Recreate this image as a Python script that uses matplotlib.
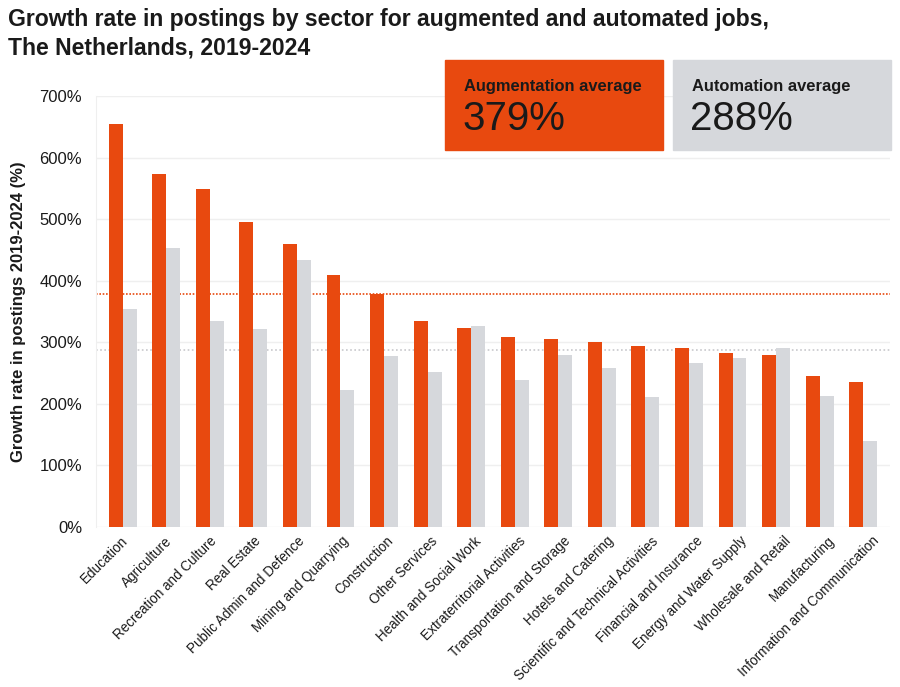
import numpy as np
import matplotlib.pyplot as plt
from matplotlib.patches import Rectangle
from matplotlib.transforms import ScaledTranslation

plt.rcParams['font.family'] = ['Liberation Sans', 'DejaVu Sans']

# data
sectors = ['Education', 'Agriculture', 'Recreation and Culture', 'Real Estate',
           'Public Admin and Defence', 'Mining and Quarrying', 'Construction',
           'Other Services', 'Health and Social Work', 'Extraterritorial Activities',
           'Transportation and Storage', 'Hotels and Catering',
           'Scientific and Technical Activities', 'Financial and Insurance',
           'Energy and Water Supply', 'Wholesale and Retail', 'Manufacturing',
           'Information and Communication']
augmentation = [654, 573, 549, 496, 459, 409, 379, 335, 323, 309, 305, 300, 294,
                291, 282, 280, 245, 236]
automation = [354, 453, 335, 322, 434, 223, 277, 251, 326, 238, 280, 258, 211,
              266, 275, 291, 213, 140]
aug_avg = 379
auto_avg = 288
yticks = [0, 100, 200, 300, 400, 500, 600, 700]

ORANGE = '#E8490F'
GREY = '#D6D8DC'
TEXT = '#1a1a1a'

fig = plt.figure(figsize=(9, 6.87), dpi=100)
ax = fig.add_axes([0.1067, 0.2329, 0.882, 0.6274])

x = np.arange(len(sectors))
w = 0.32
ax.bar(x - w / 2, augmentation, width=w, color=ORANGE, zorder=3)
ax.bar(x + w / 2, automation, width=w, color=GREY, zorder=3)

# average reference lines
ax.axhline(aug_avg, color=ORANGE, linestyle=(0, (1, 1)), linewidth=1.2, zorder=2)
ax.axhline(auto_avg, color='#c8c8cc', linestyle=(0, (1, 1.5)), linewidth=1.2, zorder=2)

ax.set_xlim(-0.61, len(sectors) - 0.39)
ax.set_ylim(0, 700)
ax.set_yticks(yticks)
ax.set_yticklabels([f'{v}%' for v in yticks], fontsize=12, color=TEXT)
ax.yaxis.grid(True, color='#efefef', linewidth=1, zorder=0)
ax.tick_params(axis='y', length=0, pad=10)
ax.tick_params(axis='x', length=0, pad=5)
ax.set_xticks(x)
ax.set_xticklabels(sectors, rotation=45, ha='right', rotation_mode='anchor',
                   fontsize=9.75, color=TEXT)
# labels drift slightly right of the bar groups in the original (pixels)
n = len(sectors)
for i, lab in enumerate(ax.get_xticklabels()):
    dx = (-2 + 11 * i / (n - 1)) / 100
    lab.set_transform(lab.get_transform() + ScaledTranslation(dx, 0, fig.dpi_scale_trans))
for side in ['top', 'right', 'bottom']:
    ax.spines[side].set_visible(False)
ax.spines['left'].set_color('#efefef')

ax.set_ylabel('Growth rate in postings 2019-2024 (%)', fontsize=12,
              fontweight='bold', color=TEXT, labelpad=10)

fig.text(0.009, 0.988, 'Growth rate in postings by sector for augmented and automated jobs,\n'
         'The Netherlands, 2019-2024', fontsize=16.6, fontweight='bold',
         color=TEXT, va='top', ha='left', linespacing=1.28)

# average call-out boxes
W, H = 900, 687
fig.add_artist(Rectangle((445 / W, 1 - 150 / H), 218 / W, 90 / H,
                         transform=fig.transFigure, color=ORANGE, zorder=5))
fig.add_artist(Rectangle((673 / W, 1 - 150 / H), 218 / W, 90 / H,
                         transform=fig.transFigure, color=GREY, zorder=5))
fig.text(464 / W, 1 - 86 / H, 'Augmentation average', fontsize=11.9,
         fontweight='bold', color=TEXT, va='center', zorder=6)
fig.text(462 / W, 1 - 119 / H, f'{aug_avg}%', fontsize=29, color=TEXT,
         va='center', zorder=6)
fig.text(692 / W, 1 - 86 / H, 'Automation average', fontsize=11.9,
         fontweight='bold', color=TEXT, va='center', zorder=6)
fig.text(690 / W, 1 - 119 / H, f'{auto_avg}%', fontsize=29, color=TEXT,
         va='center', zorder=6)

fig.savefig('out.png', dpi=100, facecolor='white')
